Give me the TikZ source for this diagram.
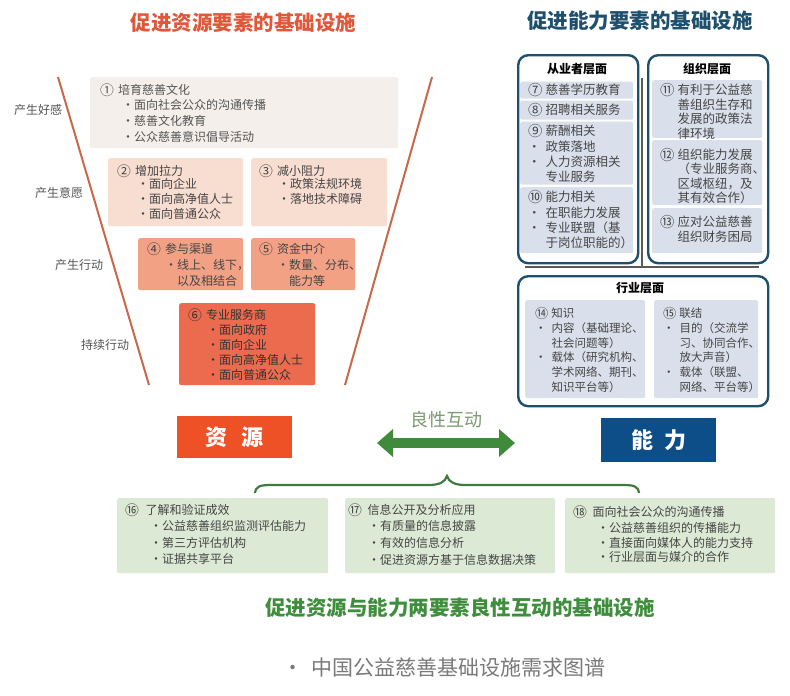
\documentclass[tikz,border=0pt]{standalone}
\usepackage{fontspec}
\usepackage{graphicx}
\setmainfont{Noto Sans CJK SC}
\usetikzlibrary{arrows.meta}
\definecolor{ltitle}{HTML}{E0583A}
\definecolor{fline}{HTML}{C8694B}
\definecolor{cone}{HTML}{F4EFEB}
\definecolor{ctwo}{HTML}{F8DDD1}
\definecolor{cfour}{HTML}{F2A185}
\definecolor{csix}{HTML}{EC6A4E}
\definecolor{cres}{HTML}{EF5126}
\definecolor{rblue}{HTML}{1E4F6C}
\definecolor{csub}{HTML}{DAE0EB}
\definecolor{cabl}{HTML}{0E4E88}
\definecolor{garr}{HTML}{3F8B3B}
\definecolor{glab}{HTML}{7C9A70}
\definecolor{gbr}{HTML}{3E7B3C}
\definecolor{gbox}{HTML}{DCEAD5}
\definecolor{gtit}{HTML}{3F8E3D}
\definecolor{txtc}{HTML}{454545}
\definecolor{lblc}{HTML}{555555}
\definecolor{capc}{HTML}{7A7A7A}
\definecolor{divc}{HTML}{5A5A5A}
\newcommand{\cn}[1]{\smash{\raisebox{-0.06em}{\scalebox{1.15}{#1}}}}
\newcommand{\gap}{\hspace{4pt}}
\newcommand{\rgap}{\hspace{3pt}}
\newcommand{\rb}{•\hspace{5pt}}
\newcommand{\rbi}{\hphantom{•\hspace{5pt}}}
\tikzset{
  bx/.style={inner sep=0pt, anchor=north west, rounded corners=2pt, draw=none},
  panel/.style={inner sep=0pt, anchor=north west, rounded corners=10pt, draw=rblue, line width=2.4pt, fill=white},
  txt/.style={inner sep=0pt, anchor=north west, align=left, text=txtc, font=\fontsize{12}{16}\selectfont},
  lbl/.style={inner sep=0pt, text=lblc, font=\fontsize{12}{14}\selectfont},
  hdr/.style={inner sep=0pt, text=black, font=\fontsize{12}{14}\selectfont\bfseries},
  bigtitle/.style={inner sep=0pt, font=\fontsize{20.5}{24}\selectfont\bfseries},
  funnel/.style={draw=fline, line width=2pt},
  divider/.style={draw=divc, line width=1.3pt},
  gbrace/.style={draw=gbr, line width=2.2pt},
  garrow/.style={draw=garr, line width=10pt, {Triangle[length=16pt,width=27pt]}-{Triangle[length=16pt,width=27pt]}},
  elem/.style={inner sep=0pt, text=white, font=\fontsize{22}{24}\selectfont\bfseries}
}
\begin{document}
\begin{tikzpicture}[x=1pt,y=-1pt]
\fill[white] (0,0) rectangle (790,696);
\useasboundingbox (0,0) rectangle (790,696);

% titles
\node[bigtitle, text=ltitle] (tl) at (243.5,23) {促进资源要素的基础设施};
\node[bigtitle, text=rblue] (tr) at (640,21) {促进能力要素的基础设施};

% funnel
\coordinate (fl1) at (58,77);
\coordinate (fl2) at (149,385);
\coordinate (fr1) at (432,77);
\coordinate (fr2) at (345,385);
\draw[funnel] (fl1) -- (fl2);
\draw[funnel] (fr1) -- (fr2);

% stage labels
\node[lbl] (l1) at (38,110) {产生好感};
\node[lbl] (l2) at (59,193) {产生意愿};
\node[lbl] (l3) at (79,265) {产生行动};
\node[lbl] (l4) at (105,345) {持续行动};

% box 1
\node[bx, fill=cone, minimum width=308pt, minimum height=71pt] (box1) at (90,77) {};
\node[txt, text=lblc] (b1h) at (100,84.4) {\cn{①}\gap 培育慈善文化};
\node[txt, text=lblc] (b1b) at (122,99.4) {•面向社会公众的沟通传播\\•慈善文化教育\\•公众慈善意识倡导活动};

% box 2 / 3
\node[bx, fill=ctwo, minimum width=135pt, minimum height=68pt] (box2) at (108,158) {};
\node[txt] (b2h) at (117,165.4) {\cn{②}\gap 增加拉力};
\node[txt, font=\fontsize{12}{15}\selectfont] (b2b) at (137,178.4) {•面向企业\\•面向高净值人士\\•面向普通公众};
\node[bx, fill=ctwo, minimum width=136pt, minimum height=68pt] (box3) at (251,158) {};
\node[txt] (b3h) at (259,165.4) {\cn{③}\gap 减小阻力};
\node[txt, font=\fontsize{12}{15}\selectfont] (b3b) at (278,178.4) {•政策法规环境\\•落地技术障碍};

% box 4 / 5
\node[bx, fill=cfour, minimum width=105pt, minimum height=52pt] (box4) at (138,238) {};
\node[txt] (b4h) at (147,243.4) {\cn{④}\gap 参与渠道};
\node[txt] (b4b) at (165,259.4) {•线上、线下，\\\hphantom{•}以及相结合};
\node[bx, fill=cfour, minimum width=104pt, minimum height=52pt] (box5) at (251,238) {};
\node[txt] (b5h) at (259,243.4) {\cn{⑤}\gap 资金中介};
\node[txt] (b5b) at (277,259.4) {•数量、分布、\\\hphantom{•}能力等};

% box 6
\node[bx, fill=csix, minimum width=136pt, minimum height=82pt] (box6) at (179,303) {};
\node[txt, text=black!80] (b6h) at (188,309.4) {\cn{⑥}\gap 专业服务商};
\node[txt, text=black!80, font=\fontsize{12}{15}\selectfont] (b6b) at (207,324.4) {•面向政府\\•面向企业\\•面向高净值人士\\•面向普通公众};

% element boxes
\node[elem, fill=cres, minimum width=115pt, minimum height=42pt] (res) at (234.5,437) {资\hspace{14pt}源};
\node[elem, fill=cabl, minimum width=115pt, minimum height=44pt] (abl) at (658.5,440) {能\hspace{11pt}力};

% interaction arrow
\node[inner sep=0pt, text=glab, font=\fontsize{18}{20}\selectfont] (gl) at (446,420) {良性互动};
\coordinate (al) at (377,443);
\coordinate (ar) at (515,443);
\draw[garrow] (al) -- (ar);

% brace
\coordinate (brl) at (255,493);
\coordinate (brp) at (447,476);
\coordinate (brr) at (639,493);
\draw[gbrace] (brl) .. controls (256,486) and (260,485) .. (272,485) -- (428,485)
  .. controls (440,485) and (445,482) .. (brp)
  .. controls (449,482) and (454,485) .. (466,485) -- (622,485)
  .. controls (634,485) and (638,486) .. (brr);

% bottom boxes
\node[bx, fill=gbox, minimum width=211pt, minimum height=75pt] (g16) at (117,498) {};
\node[txt] (g16h) at (125,504.4) {\cn{⑯}\hspace{6.5pt}了解和验证成效};
\node[txt, font=\fontsize{12}{16.6}\selectfont] (g16b) at (150,520.4) {•公益慈善组织监测评估能力\\•第三方评估机构\\•证据共享平台};
\node[bx, fill=gbox, minimum width=210pt, minimum height=75pt] (g17) at (345,498) {};
\node[txt] (g17h) at (348,504.4) {\cn{⑰}\hspace{5.5pt}信息公开及分析应用};
\node[txt, font=\fontsize{12}{16.6}\selectfont] (g17b) at (368,520.4) {•有质量的信息披露\\•有效的信息分析\\•促进资源方基于信息数据决策};
\node[bx, fill=gbox, minimum width=210pt, minimum height=75pt] (g18) at (565,498) {};
\node[txt] (g18h) at (573,506.1) {\cn{⑱}\hspace{5.5pt}面向社会公众的沟通传播};
\node[txt, font=\fontsize{12}{14.5}\selectfont] (g18b) at (597,522.4) {•公益慈善组织的传播能力\\•直接面向媒体人的能力支持\\•行业层面与媒介的合作};

% bottom title and caption
\node[bigtitle, text=gtit] (bt) at (460,608) {促进资源与能力两要素良性互动的基础设施};
\node[inner sep=0pt, text=capc, font=\fontsize{21}{24}\selectfont] (cap) at (444,668) {·\hspace{8pt}中国公益慈善基础设施需求图谱};

% right panels
\node[panel, minimum width=120pt, minimum height=208pt] (pA) at (517,54) {};
\node[panel, minimum width=120pt, minimum height=208pt] (pB) at (647,54) {};
\coordinate (dv1) at (642,78);
\coordinate (dv2) at (642,267);
\coordinate (dh1) at (525,267);
\coordinate (dh2) at (759,267);
\draw[divider] (dv1) -- (dv2);
\draw[divider] (dh1) -- (dh2);
\node[panel, minimum width=250pt, minimum height=130pt] (pC) at (517,275) {};

\node[hdr] (pAh) at (577,69) {从业者层面};
\node[hdr] (pBh) at (707,69) {组织层面};
\node[hdr] (pCh) at (640,288) {行业层面};

% panel A sub boxes
\node[bx, fill=csub, minimum width=113pt, minimum height=17pt] (s7) at (520,81.5) {};
\node[bx, fill=csub, minimum width=113pt, minimum height=19pt] (s8) at (520,100.5) {};
\node[bx, fill=csub, minimum width=113pt, minimum height=63pt] (s9) at (520,121.5) {};
\node[bx, fill=csub, minimum width=113pt, minimum height=66pt] (s10) at (520,187) {};
\node[txt, font=\fontsize{12.5}{15.3}\selectfont] (t7) at (528,84.1) {\cn{⑦}\rgap 慈善学历教育};
\node[txt, font=\fontsize{12.5}{15.3}\selectfont] (t8) at (528,104.1) {\cn{⑧}\rgap 招聘相关服务};
\node[txt, font=\fontsize{12.5}{15.3}\selectfont] (t9) at (528,125.1) {\cn{⑨}\rgap 薪酬相关\\\rb 政策落地\\\rb 人力资源相关\\\rbi 专业服务};
\node[txt, font=\fontsize{12.5}{15.3}\selectfont] (t10) at (528,191.1) {\cn{⑩}\rgap 能力相关\\\rb 在职能力发展\\\rb 专业联盟（基\\\rbi 于岗位职能的）};

% panel B sub boxes
\node[bx, fill=csub, minimum width=110pt, minimum height=58pt] (s11) at (652,80) {};
\node[bx, fill=csub, minimum width=110pt, minimum height=65pt] (s12) at (652,140) {};
\node[bx, fill=csub, minimum width=110pt, minimum height=45pt] (s13) at (652,208) {};
\node[txt, font=\fontsize{12.5}{14.4}\selectfont] (t11) at (660,84.1) {\cn{⑪}\rgap 有利于公益慈\\\hphantom{\cn{⑪}\rgap}善组织生存和\\\hphantom{\cn{⑪}\rgap}发展的政策法\\\hphantom{\cn{⑪}\rgap}律环境};
\node[txt, font=\fontsize{12.5}{14.1}\selectfont] (t12) at (660,149.1) {\cn{⑫}\rgap 组织能力发展\\\hphantom{\cn{⑫}\rgap}（专业服务商、\\\hphantom{\cn{⑫}\rgap}区域枢纽，及\\\hphantom{\cn{⑫}\rgap}其有效合作）};
\node[txt, font=\fontsize{12.5}{15}\selectfont] (t13) at (660,216.1) {\cn{⑬}\rgap 应对公益慈善\\\hphantom{\cn{⑬}\rgap}组织财务困局};

% panel C sub boxes
\node[bx, fill=csub, minimum width=120pt, minimum height=98pt] (s14) at (525,300) {};
\node[bx, fill=csub, minimum width=104pt, minimum height=98pt] (s15) at (654,300) {};
\node[txt, font=\fontsize{11.5}{14.8}\selectfont] (t14) at (535,307.6) {\cn{⑭}\rgap 知识\\\rb 内容（基础理论、\\\rbi 社会问题等）\\\rb 载体（研究机构、\\\rbi 学术网络、期刊、\\\rbi 知识平台等）};
\node[txt, font=\fontsize{11.5}{14.8}\selectfont] (t15) at (663,307.6) {\cn{⑮}\rgap 联结\\\rb 目的（交流学\\\rbi 习、协同合作、\\\rbi 放大声音）\\\rb 载体（联盟、\\\rbi 网络、平台等）};
\end{tikzpicture}
\end{document}
